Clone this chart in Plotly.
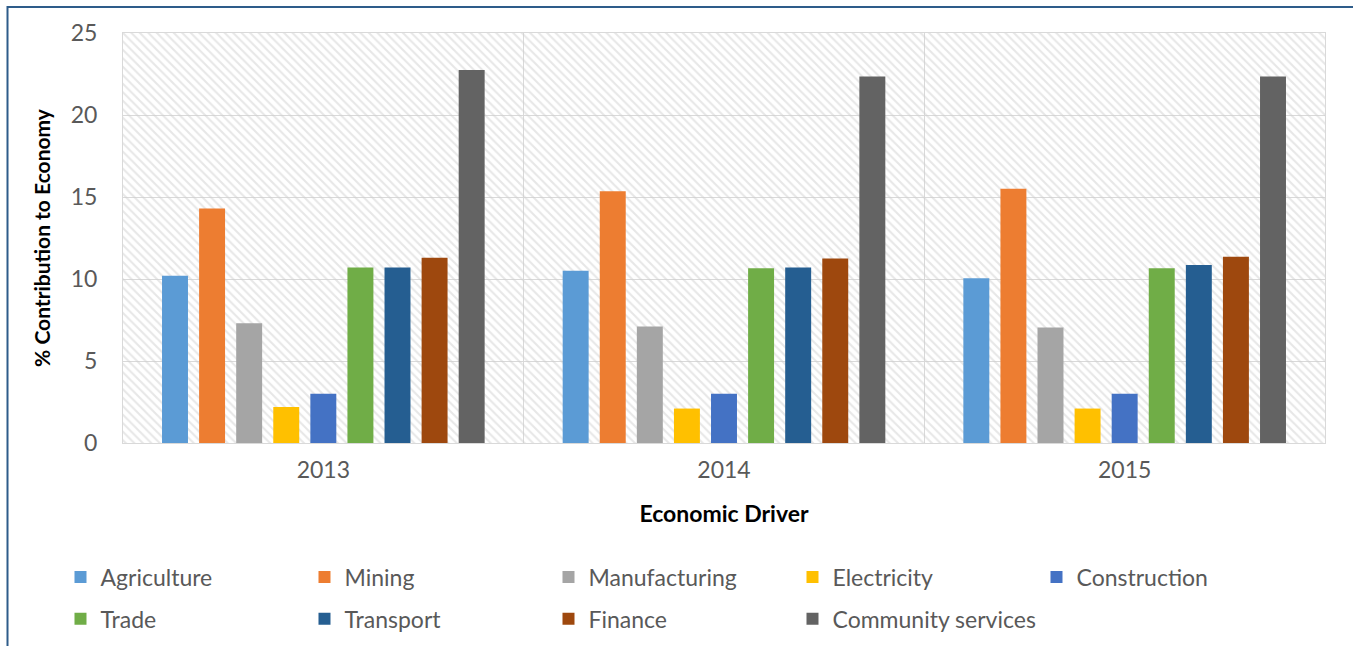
import plotly.graph_objects as go

years = ["2013", "2014", "2015"]
sectors = ["Agriculture", "Mining", "Manufacturing", "Electricity", "Construction",
           "Trade", "Transport", "Finance", "Community services"]
agriculture = [10.2, 10.5, 10.05]
mining = [14.3, 15.35, 15.5]
manufacturing = [7.3, 7.1, 7.05]
electricity = [2.2, 2.1, 2.1]
construction = [3.0, 3.0, 3.0]
trade = [10.7, 10.65, 10.65]
transport = [10.7, 10.7, 10.85]
finance = [11.3, 11.25, 11.35]
community = [22.75, 22.35, 22.35]
values = [agriculture, mining, manufacturing, electricity, construction,
          trade, transport, finance, community]
colors = ["#5B9BD5", "#ED7D31", "#A5A5A5", "#FFC000", "#4472C4",
          "#70AD47", "#255E91", "#9E480E", "#636363"]
y_max = 25

FONT = "Lato"
fig = go.Figure()

# hatched plot background (base x axis, drawn beneath the overlaid bar axis)
fig.add_trace(go.Bar(
    x=[0.5], y=[y_max], width=[1], xaxis="x",
    marker=dict(color="rgba(0,0,0,0)", line=dict(width=0),
                pattern=dict(shape="\\", fgcolor="#cfcfcf", size=6, solidity=0.35,
                             fillmode="overlay")),
    showlegend=False, hoverinfo="skip"))

for i, (name, vals, col) in enumerate(zip(sectors, values, colors)):
    fig.add_trace(go.Bar(
        x=years, y=vals, name=name, xaxis="x2",
        marker=dict(color=col, line=dict(width=0)),
        legend="legend" if i < 5 else "legend2"))

legend_common = dict(orientation="h", xanchor="left", yanchor="middle",
                     entrywidth=199, entrywidthmode="pixels",
                     font=dict(family=FONT, size=23, color="#595959"),
                     bgcolor="rgba(0,0,0,0)", itemclick=False)

fig.update_layout(
    width=1353, height=646,
    paper_bgcolor="white", plot_bgcolor="white",
    margin=dict(l=123, r=28, t=33, b=203, autoexpand=False),
    barmode="group", bargap=0.167, bargroupgap=0.3,
    font=dict(family=FONT, color="#595959"),
    xaxis=dict(range=[0, 1], visible=False, showgrid=False, zeroline=False),
    xaxis2=dict(overlaying="x", side="bottom", type="category",
                tickson="boundaries", showgrid=True,
                gridcolor="#d9d9d9", gridwidth=1, ticks="", showline=True,
                linecolor="#d9d9d9", mirror=True, ticklabelstandoff=6,
                tickfont=dict(size=23, color="#595959"),
                title=dict(text="<b>Economic Driver</b>", standoff=24,
                           font=dict(size=23, color="#000000"))),
    yaxis=dict(range=[0, y_max], dtick=5, showgrid=True, gridcolor="#d9d9d9",
               gridwidth=1, zeroline=False, showline=True, linecolor="#d9d9d9",
               mirror=True, ticks="", ticklabelstandoff=20,
               tickfont=dict(size=23, color="#595959"),
               title=dict(text="<b>% Contribution to Economy</b>", standoff=14,
                          font=dict(size=21, color="#000000"))),
    legend=dict(x=-0.052, y=-0.327, **legend_common),
    legend2=dict(x=-0.052, y=-0.429, **legend_common),
    shapes=[dict(type="rect", xref="paper", yref="paper",
                 x0=(7.5 - 123) / 1202, x1=(1360 - 123) / 1202,
                 y0=-0.6, y1=1 + (33 - 7) / 410,
                 line=dict(color="#2E5C8A", width=2), fillcolor="rgba(0,0,0,0)",
                 layer="below")],
)

fig.write_html("out.html")
